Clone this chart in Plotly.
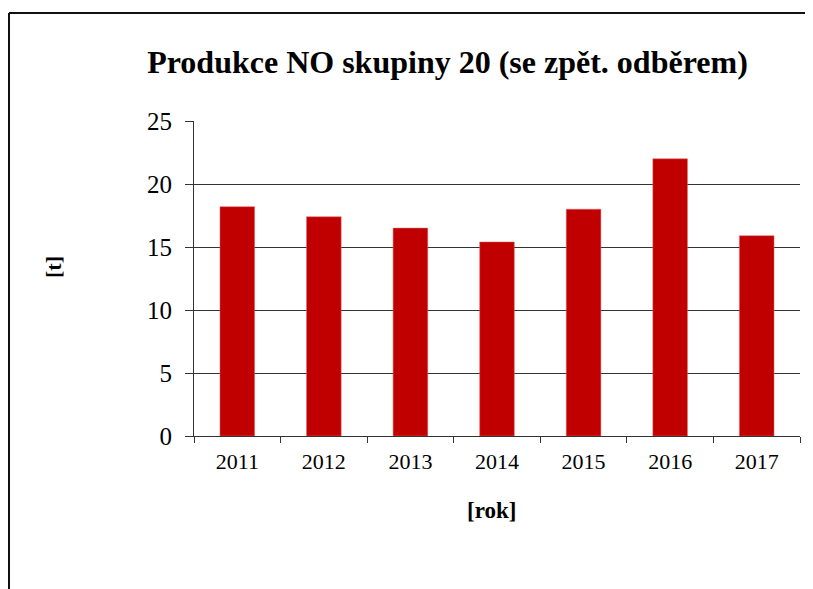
import plotly.graph_objects as go

years = ["2011", "2012", "2013", "2014", "2015", "2016", "2017"]
values = [18.2, 17.4, 16.5, 15.4, 18.0, 22.0, 15.9]
y_ticks = [0, 5, 10, 15, 20, 25]

# page has an 8px body margin; figure coords = page coords - 8
W, H = 805, 581
L, R, T, B = 186, 13, 113, 153
pw, ph = W - L - R, H - T - B

fig = go.Figure(go.Bar(
    x=years, y=values,
    marker=dict(color="#C00000", line=dict(color="#E06666", width=0.5)),
    width=0.4,
))

def px_x(px):
    return (px - L) / pw

def px_y(py):
    return (H - B - py) / ph

fig.update_layout(
    width=W, height=H,
    margin=dict(l=L, r=R, t=T, b=B),
    paper_bgcolor="white", plot_bgcolor="white",
    showlegend=False,
    font=dict(family="Liberation Serif", color="black"),
    title=dict(text="<b>Produkce NO skupiny 20 (se zpět. odběrem)</b>",
               x=439.5 / W, xanchor="center",
               y=1 - 54 / H, yanchor="middle",
               font=dict(size=32, family="Liberation Serif", color="black")),
    xaxis=dict(
        showline=True, linecolor="#333333", linewidth=1,
        ticks="outside", tickson="boundaries", ticklen=6, tickcolor="#333333",
        tickfont=dict(size=22), showgrid=False,
        ticklabelstandoff=6,
    ),
    yaxis=dict(
        range=[0, 25], tickvals=y_ticks,
        showline=True, linecolor="#333333", linewidth=1,
        ticks="outside", ticklen=8, tickcolor="#333333",
        tickfont=dict(size=25),
        showgrid=True, gridcolor="#333333", gridwidth=1,
        zeroline=False,
        ticklabelstandoff=8,
    ),
    annotations=[
        dict(text="<b>[t]</b>", xref="paper", yref="paper",
             x=px_x(45), y=px_y(259), xanchor="center", yanchor="middle",
             textangle=-90, showarrow=False, font=dict(size=22)),
        dict(text="<b>[rok]</b>", xref="paper", yref="paper",
             x=px_x(483), y=px_y(502), xanchor="center", yanchor="middle",
             showarrow=False, font=dict(size=23)),
    ],
    shapes=[
        dict(type="line", xref="paper", yref="paper",
             x0=px_x(1), x1=px_x(1), y0=px_y(5), y1=px_y(600),
             line=dict(color="#111111", width=2)),
        dict(type="line", xref="paper", yref="paper",
             x0=px_x(1), x1=px_x(820), y0=px_y(5), y1=px_y(5),
             line=dict(color="#111111", width=2)),
    ],
)

fig.write_html("out.html")
